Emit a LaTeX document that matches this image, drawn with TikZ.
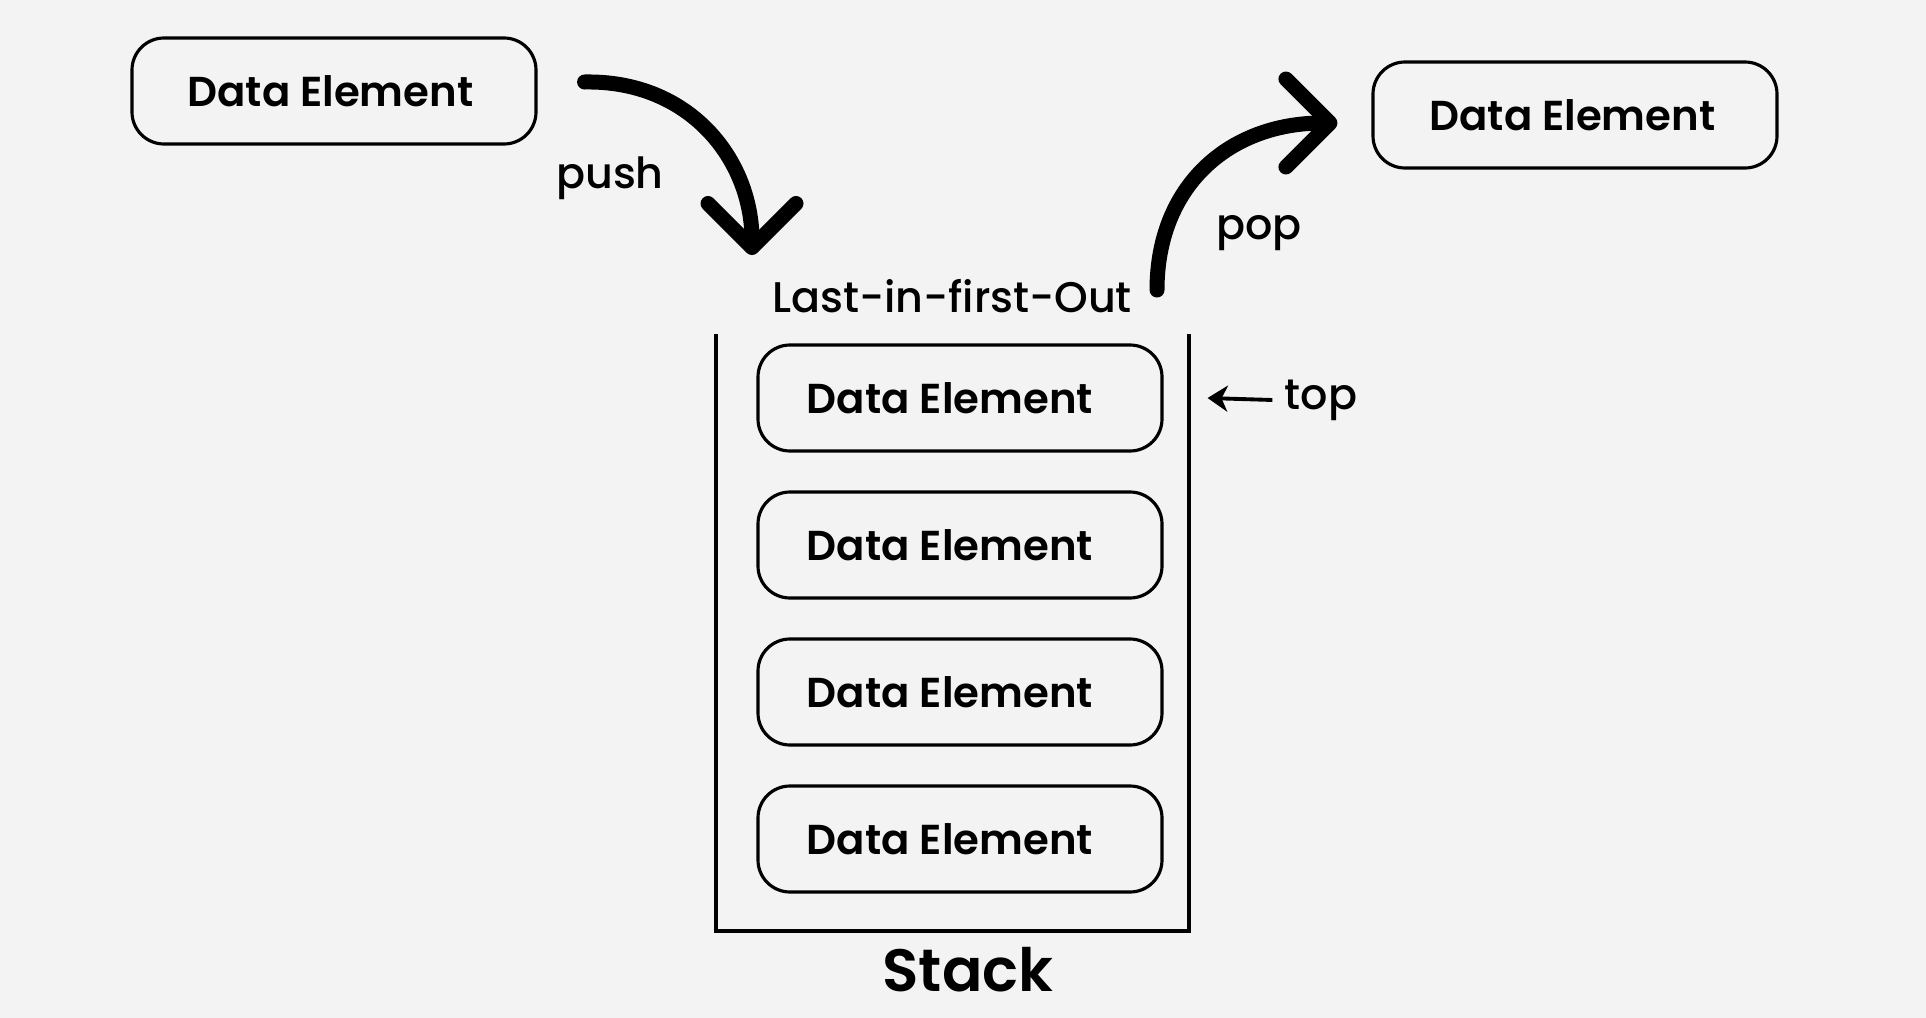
\documentclass[tikz,border=0pt]{standalone}
\usepackage{fontspec}
\setmainfont{Poppins}[UprightFont=* Medium, BoldFont=* SemiBold]
\usetikzlibrary{arrows.meta,positioning}
\definecolor{bggray}{HTML}{F3F3F3}
\tikzset{
  elem/.style={draw, line width=0.9pt, rounded corners=3.2mm,
    minimum width=40.4mm, minimum height=10.6mm,
    font=\bfseries\fontsize{11.9}{14}\selectfont,
    execute at begin node={\hspace*{-#1}}},
  elem/.default={0.7mm},
  bigarrow/.style={line width=1.5mm, line cap=round,
    -{Straight Barb[round, length=4.4mm, width=8.8mm]}},
  lbl/.style={font=\fontsize{12.2}{14}\selectfont}
}

\begin{document}
\begin{tikzpicture}[x=0.1mm,y=-0.1mm]
        \fill[bggray] (0,0) rectangle (1926,1018);
        \useasboundingbox (0,0) rectangle (1926,1018);
        %-----------------------------------------------
        \node[elem] (din) at (334,91) {Data Element};
        \node[elem=0.5mm] (dout) at (1575,115) {Data Element};
        %-----------------------------------------------
        \foreach \i in {1,...,4}
        \node[elem=2mm] (s\i) at ({960},{251+147*\i}) {Data Element};
        %-----------------------------------------------
        \coordinate (ctl) at (716,334);
        \coordinate (cbr) at (1189,931);
        \coordinate (ctr) at (1189,334);
        \draw[line width=1pt] (ctl) |- (cbr) -- (ctr);
        \node[font=\bfseries\fontsize{17}{20}\selectfont] (stack) at (968,970) {Stack};
        \node[lbl] (lifo) at (952,296) {Last-in-first-Out};
        %-----------------------------------------------
        \coordinate (pushin) at (752,255);
        \draw[bigarrow] ([xshift=4.7mm,yshift=0.9mm]din.east) .. controls (690,80) and (752,160) .. (pushin);
        \node[lbl] (push) at (610,178) {push};
        %-----------------------------------------------
        \coordinate (popout) at (1157,290);
        \draw[bigarrow] (popout) .. controls (1157,185) and (1230,123) .. ([xshift=-3.4mm,yshift=-0.8mm]dout.west);
        \node[lbl] (pop) at (1259,233) {pop};
        %-----------------------------------------------
        \node[lbl] (top) at (1321,400) {top};
        \draw[line width=1.1pt, -{Stealth[length=2mm, width=2.6mm, inset=0.6mm]}] (top.west) -- ([xshift=4.4mm]s1.east);
\end{tikzpicture}
\end{document}
